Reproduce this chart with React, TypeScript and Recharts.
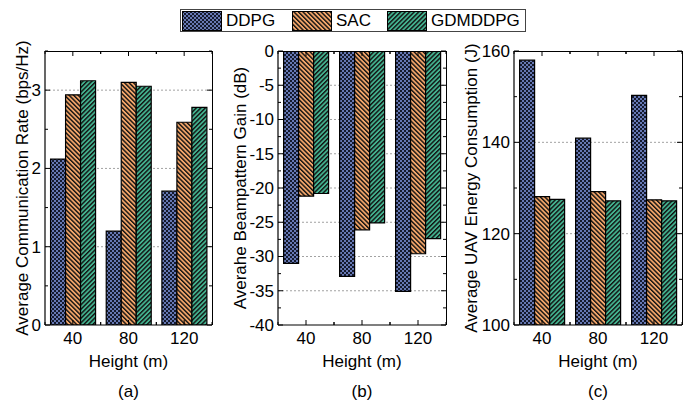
import { BarChart, Bar, XAxis, YAxis, CartesianGrid } from 'recharts'

const heights = ['40', '80', '120']

// (a) average communication rate, bps/Hz
const rateDDPG = [2.12, 1.2, 1.71]
const rateSAC = [2.94, 3.1, 2.59]
const rateGDM = [3.12, 3.05, 2.78]

// (b) beampattern gain, dB
const gainDDPG = [-31.0, -32.9, -35.1]
const gainSAC = [-21.2, -26.1, -29.6]
const gainGDM = [-20.8, -25.1, -27.4]

// (c) UAV energy consumption, J
const energyDDPG = [158.0, 140.9, 150.3]
const energySAC = [128.1, 129.2, 127.4]
const energyGDM = [127.5, 127.2, 127.2]

const rateTicks = [0, 0.5, 1, 1.5, 2, 2.5, 3, 3.5]
const rateLabels = [0, 1, 2, 3]
const gainTicks = [-40, -37.5, -35, -32.5, -30, -27.5, -25, -22.5, -20, -17.5, -15, -12.5, -10, -7.5, -5, -2.5, 0]
const gainLabels = [-40, -35, -30, -25, -20, -15, -10, -5, 0]
const energyTicks = [100, 110, 120, 130, 140, 150, 160]
const energyLabels = [100, 120, 140, 160]

const FONT = '"Liberation Sans", Arial, Helvetica, sans-serif'
const FS = 17
const TOP = 51
const PLOT_H = 274

const buildRows = (ddpg: number[], sac: number[], gdm: number[]) =>
  heights.map((h, i) => ({ h, ddpg: ddpg[i], sac: sac[i], gdm: gdm[i] }))

function Patterns() {
  return (
    <svg width={0} height={0} style={{ position: 'absolute' }}>
      <defs>
        <pattern id="pDDPG" width={4} height={4} patternUnits="userSpaceOnUse">
          <rect width={4} height={4} fill="#6678b3" />
          <rect x={0} y={0} width={2} height={2} fill="#141a2e" />
          <rect x={2} y={2} width={2} height={2} fill="#141a2e" />
        </pattern>
        <pattern id="pSAC" width={3.2} height={8} patternUnits="userSpaceOnUse" patternTransform="rotate(-45)">
          <rect width={3.2} height={8} fill="#f3a66a" />
          <rect x={0} y={0} width={1.4} height={8} fill="#111" />
        </pattern>
        <pattern id="pGDM" width={3.2} height={8} patternUnits="userSpaceOnUse" patternTransform="rotate(45)">
          <rect width={3.2} height={8} fill="#43b28f" />
          <rect x={0} y={0} width={1.4} height={8} fill="#111" />
        </pattern>
      </defs>
    </svg>
  )
}

// left axis tick: inward tick on the left and mirrored on the right frame
function YTick(props: any) {
  const { x, y, payload, majors, plotW } = props
  const major = majors.includes(payload.value)
  const len = major ? 5 : 3
  const d = `M${x},${y}h${len}M${x + plotW},${y}h${-len}`
  return (
    <g>
      <path d={d} stroke="#000" strokeWidth={1} fill="none" />
      {major && (
        <text x={x - 4} y={y} dy="0.35em" textAnchor="end" fontSize={FS} fontFamily={FONT} fill="#000">
          {payload.value}
        </text>
      )}
    </g>
  )
}

// bottom axis tick: major at the category, minor at band edges, mirrored on the top frame
function XTick(props: any) {
  const { x, y, payload, bw } = props
  const marks = [
    [x, 5],
    [x - bw / 2, 3],
    [x + bw / 2, 3],
  ]
  const d = marks.map(([at, len]) => `M${at},${y}v${-len}M${at},${TOP}v${len}`).join('')
  return (
    <g>
      <path d={d} stroke="#000" strokeWidth={1} fill="none" />
      <text x={x} y={y + 19} textAnchor="middle" fontSize={FS} fontFamily={FONT} fill="#000">
        {payload.value}
      </text>
    </g>
  )
}

interface PanelProps {
  left: number
  width: number
  yWidth: number
  marginRight: number
  rows: { h: string; ddpg: number; sac: number; gdm: number }[]
  domain: [number, number]
  ticks: number[]
  labels: number[]
  yTitle: string
  titleX: number
  caption: string
}

function Panel({ left, width, yWidth, marginRight, rows, domain, ticks, labels, yTitle, titleX, caption }: PanelProps) {
  const plotW = width - yWidth - marginRight
  const bw = plotW / heights.length
  const centerX = left + yWidth + plotW / 2
  const axisLine = { stroke: '#000', strokeWidth: 1.2 }
  return (
    <>
      <div style={{ position: 'absolute', left, top: 0 }}>
        <BarChart
          width={width}
          height={402}
          data={rows}
          margin={{ top: TOP, right: marginRight, left: 0, bottom: 402 - TOP - PLOT_H - 30 }}
          barCategoryGap="10%"
          barGap={0}
        >
          <CartesianGrid
            vertical={false}
            horizontalValues={labels.filter((v) => v !== domain[0] && v !== domain[1])}
            stroke="#8a8a8a"
            strokeDasharray="2 2"
            strokeWidth={0.8}
          />
          <XAxis
            dataKey="h"
            height={30}
            interval={0}
            tickSize={0}
            tickMargin={0}
            tickLine={false}
            axisLine={axisLine}
            tick={(p: any) => <XTick {...p} bw={bw} />}
          />
          <YAxis
            type="number"
            width={yWidth}
            domain={domain}
            ticks={ticks}
            interval={0}
            allowDataOverflow
            tickSize={0}
            tickMargin={0}
            tickLine={false}
            axisLine={axisLine}
            tick={(p: any) => <YTick {...p} majors={labels} plotW={plotW} />}
          />
          <Bar dataKey="ddpg" fill="url(#pDDPG)" stroke="#000" strokeWidth={1.2} isAnimationActive={false} />
          <Bar dataKey="sac" fill="url(#pSAC)" stroke="#000" strokeWidth={1.2} isAnimationActive={false} />
          <Bar dataKey="gdm" fill="url(#pGDM)" stroke="#000" strokeWidth={1.2} isAnimationActive={false} />
        </BarChart>
      </div>
      {/* plot frame (top and right edges) */}
      <div
        style={{
          position: 'absolute',
          left: left + yWidth,
          top: TOP - 0.5,
          width: plotW + 0.5,
          height: PLOT_H,
          boxSizing: 'border-box',
          borderTop: '1px solid #000',
          borderRight: '1px solid #000',
          pointerEvents: 'none',
        }}
      />
      <div
        style={{
          position: 'absolute',
          left: titleX - 160,
          top: 188 - 10,
          width: 320,
          height: 20,
          lineHeight: '20px',
          textAlign: 'center',
          whiteSpace: 'nowrap',
          transform: 'rotate(-90deg)',
          fontSize: FS,
          fontFamily: FONT,
        }}
      >
        {yTitle}
      </div>
      <div style={{ position: 'absolute', left: centerX - 60, top: 352, width: 120, textAlign: 'center', lineHeight: '20px', fontSize: FS, fontFamily: FONT }}>
        Height (m)
      </div>
      <div style={{ position: 'absolute', left: centerX - 30, top: 382, width: 60, textAlign: 'center', lineHeight: '20px', fontSize: FS, fontFamily: FONT }}>
        {caption}
      </div>
    </>
  )
}

function LegendItem({ x, pattern, label }: { x: number; pattern: string; label: string }) {
  return (
    <>
      <svg width={40} height={20} style={{ position: 'absolute', left: x, top: 1 }}>
        <rect x={0.5} y={0.5} width={39} height={19} fill={`url(#${pattern})`} stroke="#000" strokeWidth={1} />
      </svg>
      <span style={{ position: 'absolute', left: x + 44, top: 1, lineHeight: '20px', fontSize: FS, fontFamily: FONT }}>{label}</span>
    </>
  )
}

export default function App() {
  return (
    <div style={{ position: 'absolute', left: 0, top: 0, width: 697, height: 402, background: '#fff', overflow: 'hidden' }}>
      <Patterns />
      <Panel
        left={0}
        width={230}
        yWidth={45}
        marginRight={18}
        rows={buildRows(rateDDPG, rateSAC, rateGDM)}
        domain={[0, 3.5]}
        ticks={rateTicks}
        labels={rateLabels}
        yTitle="Average Communication Rate (bps/Hz)"
        titleX={23}
        caption="(a)"
      />
      <Panel
        left={230}
        width={230}
        yWidth={48}
        marginRight={14}
        rows={buildRows(gainDDPG, gainSAC, gainGDM)}
        domain={[-40, 0]}
        ticks={gainTicks}
        labels={gainLabels}
        yTitle="Averahe Beampattern Gain (dB)"
        titleX={241}
        caption="(b)"
      />
      <Panel
        left={460}
        width={237}
        yWidth={54}
        marginRight={15}
        rows={buildRows(energyDDPG, energySAC, energyGDM)}
        domain={[100, 160]}
        ticks={energyTicks}
        labels={energyLabels}
        yTitle="Average UAV Energy Consumption (J)"
        titleX={472}
        caption="(c)"
      />
      <div
        style={{
          position: 'absolute',
          left: 180,
          top: 9,
          width: 346,
          height: 23,
          boxSizing: 'border-box',
          border: '1px solid #444',
          background: '#fff',
        }}
      >
        <LegendItem x={1} pattern="pDDPG" label="DDPG" />
        <LegendItem x={111} pattern="pSAC" label="SAC" />
        <LegendItem x={206} pattern="pGDM" label="GDMDDPG" />
      </div>
    </div>
  )
}
